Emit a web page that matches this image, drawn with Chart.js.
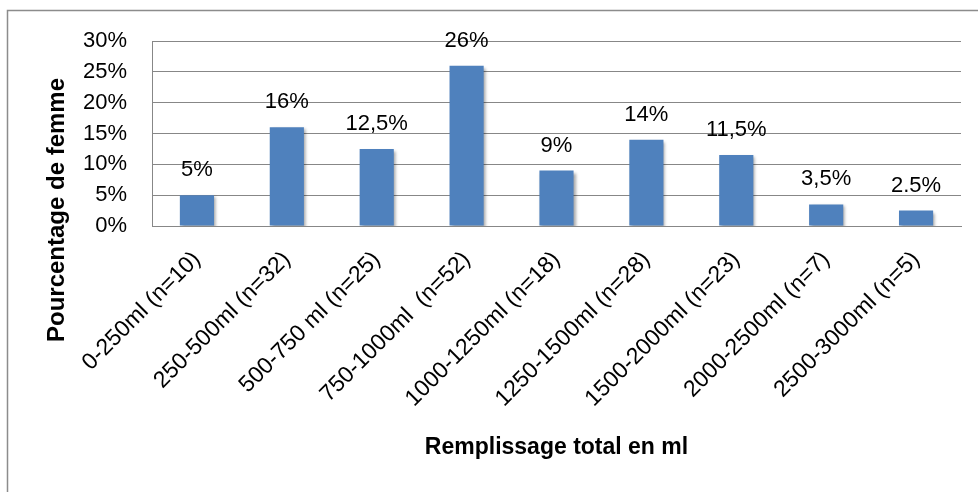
<!DOCTYPE html>
<html>
<head>
<meta charset="utf-8">
<script src="https://cdn.jsdelivr.net/npm/chart.js@4.4.0/dist/chart.umd.min.js"></script>
<style>
    html, body { margin: 0; padding: 0; background: #fff; }
    #wrap { width: 978px; height: 492px; position: relative; }
</style>
</head>
<body>
<div id="wrap"><canvas id="chart"></canvas></div>
<script>
const categories = [
    "0-250ml (n=10)",
    "250-500ml (n=32)",
    "500-750 ml (n=25)",
    "750-1000ml  (n=52)",
    "1000-1250ml (n=18)",
    "1250-1500ml (n=28)",
    "1500-2000ml (n=23)",
    "2000-2500ml (n=7)",
    "2500-3000ml (n=5)"
];
const percentValues = [5, 16, 12.5, 26, 9, 14, 11.5, 3.5, 2.5];
const valueLabels = ["5%", "16%", "12,5%", "26%", "9%", "14%", "11,5%", "3,5%", "2.5%"];
const yTickValues = [0, 5, 10, 15, 20, 25, 30];

const yTitle = "Pourcentage de femme";
const xTitle = "Remplissage total en ml";

const FONT = '"Liberation Sans", Arial, sans-serif';
const BAR_BLUE = "#4f81bd";
const GRID_GREY = "#878787";

// frame round the chart, like the Excel chart area border
const framePlugin = {
    id: "frame",
    beforeDraw(chart) {
        const ctx = chart.ctx;
        ctx.save();
        ctx.fillStyle = "#fff";
        ctx.fillRect(0, 0, chart.width, chart.height);
        ctx.strokeStyle = "#8c8c8c";
        ctx.lineWidth = 1.5;
        ctx.strokeRect(7.5, 10.5, chart.width + 20, chart.height + 20);
        ctx.restore();
    }
};

// soft shadow under bars
const shadowPlugin = {
    id: "barShadow",
    beforeDatasetDraw(chart) {
        const ctx = chart.ctx;
        ctx.save();
        ctx.shadowColor = "rgba(0,0,0,0.35)";
        ctx.shadowBlur = 3;
        ctx.shadowOffsetX = 2;
        ctx.shadowOffsetY = 2;
    },
    afterDatasetDraw(chart) {
        chart.ctx.restore();
    }
};

const valueLabelPlugin = {
    id: "valueLabels",
    afterDatasetsDraw(chart) {
        const ctx = chart.ctx;
        const meta = chart.getDatasetMeta(0);
        ctx.save();
        ctx.font = "22px " + FONT;
        ctx.fillStyle = "#000";
        ctx.textAlign = "center";
        ctx.textBaseline = "middle";
        meta.data.forEach((bar, i) => {
            ctx.fillText(valueLabels[i], bar.x, bar.y - 25);
        });
        ctx.restore();
    }
};

const axisTitlePlugin = {
    id: "axisTitles",
    afterDraw(chart) {
        const ctx = chart.ctx;
        const area = chart.chartArea;
        ctx.save();
        ctx.fillStyle = "#000";
        ctx.textAlign = "center";
        ctx.textBaseline = "middle";
        ctx.font = "bold 23px " + FONT;
        ctx.fillText(xTitle, (area.left + area.right) / 2, 448);
        ctx.font = "bold 24px " + FONT;
        ctx.translate(57, 210);
        ctx.rotate(-Math.PI / 2);
        ctx.fillText(yTitle, 0, 0);
        ctx.restore();
    }
};

new Chart(document.getElementById("chart"), {
    type: "bar",
    data: {
        labels: categories,
        datasets: [{
            label: yTitle,
            data: percentValues,
            backgroundColor: BAR_BLUE,
            borderWidth: 0,
            barPercentage: 0.38,
            categoryPercentage: 1
        }]
    },
    options: {
        responsive: true,
        maintainAspectRatio: false,
        animation: false,
        layout: { padding: { top: 41, right: 17, left: 0, bottom: 0 } },
        plugins: {
            legend: { display: false },
            tooltip: { enabled: false }
        },
        scales: {
            x: {
                grid: { display: false, drawTicks: false },
                border: { display: true, color: GRID_GREY, width: 1 },
                ticks: {
                    autoSkip: false,
                    maxRotation: 45,
                    minRotation: 45,
                    padding: 20,
                    color: "#000",
                    font: { family: FONT, size: 23 }
                },
                afterFit: scale => { scale.height = 492 - 226; }
            },
            y: {
                min: 0,
                max: 30,
                afterBuildTicks: scale => {
                    scale.ticks = yTickValues.map(v => ({ value: v }));
                },
                grid: { color: GRID_GREY, lineWidth: 1, drawTicks: false },
                border: { display: true, color: GRID_GREY, width: 1 },
                ticks: {
                    padding: 25,
                    color: "#000",
                    font: { family: FONT, size: 22 },
                    callback: value => value + "%"
                },
                afterFit: scale => { scale.width = 152; }
            }
        }
    },
    plugins: [framePlugin, shadowPlugin, valueLabelPlugin, axisTitlePlugin]
});
</script>
</body>
</html>
